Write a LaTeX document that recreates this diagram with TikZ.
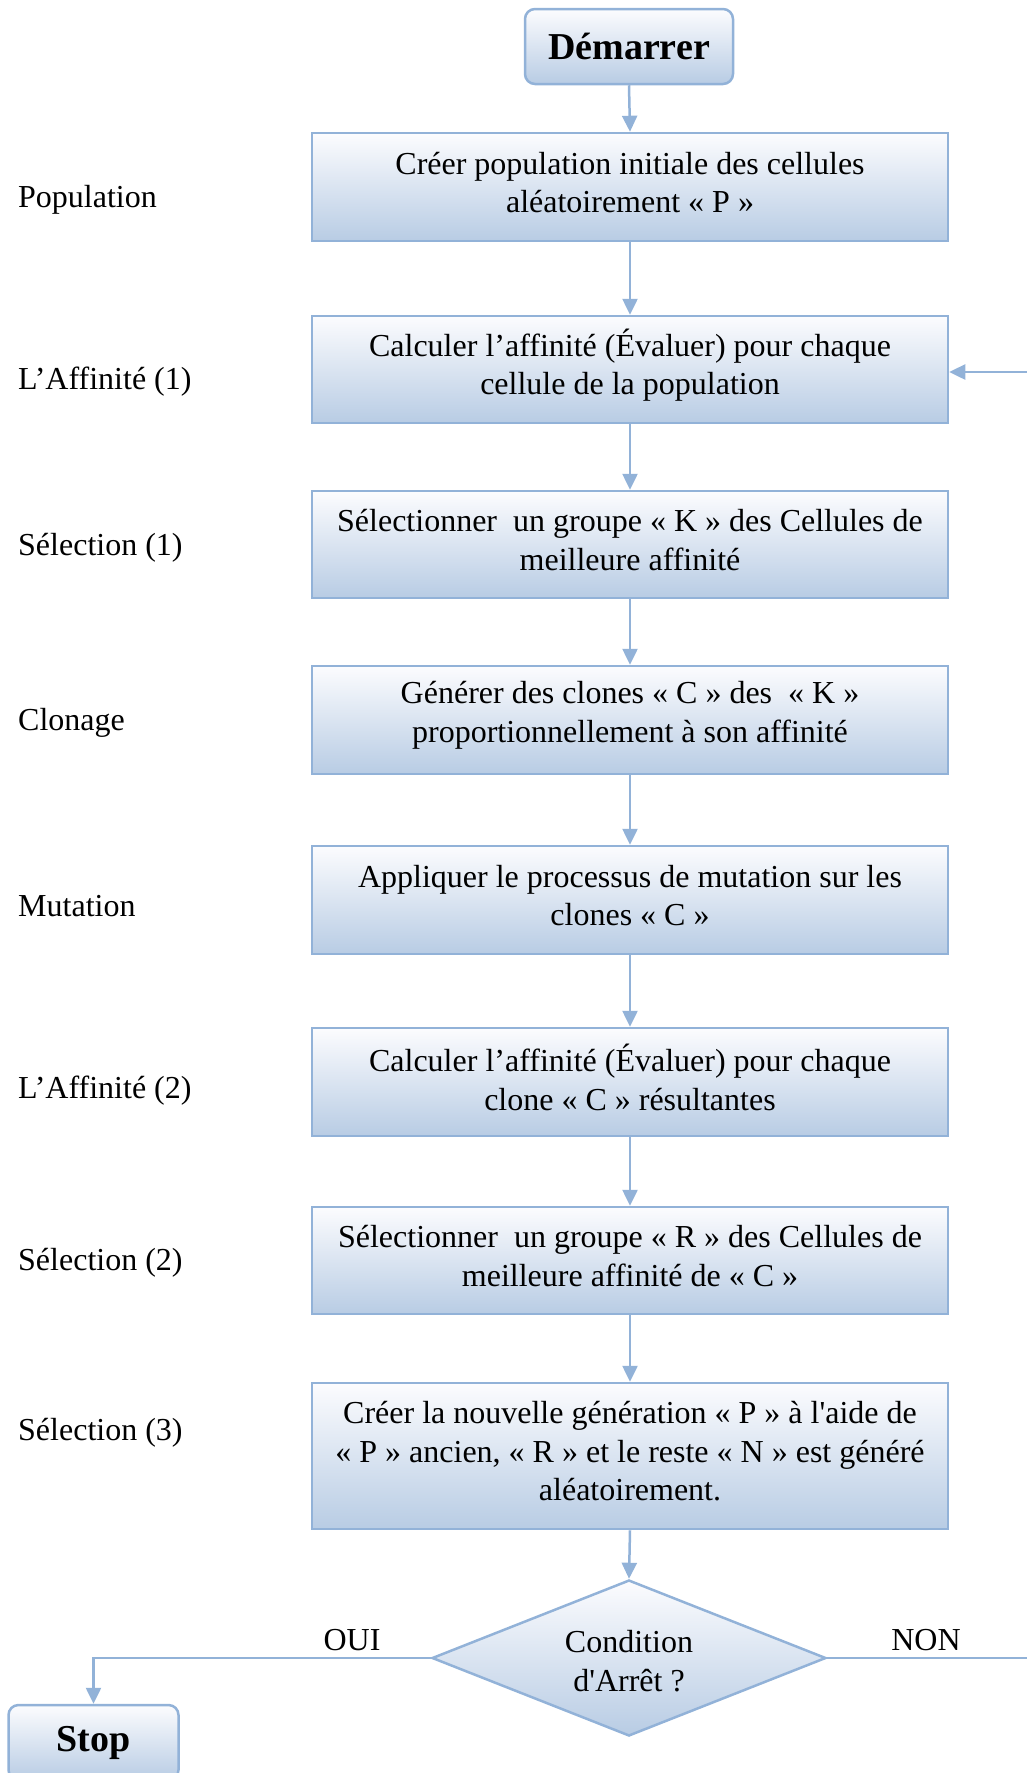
\documentclass[tikz,border=0pt]{standalone}
\usepackage{fontspec}
\setmainfont{Liberation Serif}
\usetikzlibrary{arrows.meta,shapes.geometric}

\definecolor{edgeblue}{RGB}{146,178,216}
\definecolor{fillblue}{RGB}{184,204,228}
\definecolor{filltop}{RGB}{252,252,254}

\tikzset{
  txt/.style={font=\fontsize{32}{38.5}\selectfont},
  boxtxt/.style={font=\fontsize{32}{38.5}\selectfont, align=center, inner sep=0pt},
  stepbox/.style={rectangle, draw=edgeblue, line width=2.5pt,
    top color=filltop, bottom color=fillblue,
    minimum width=636pt, inner sep=0pt},
  termbox/.style={rectangle, rounded corners=10pt, draw=edgeblue, line width=2.5pt,
    top color=filltop, bottom color=fillblue, inner sep=0pt,
    font=\fontsize{38}{42}\selectfont\bfseries},
  decision/.style={diamond, draw=edgeblue, line width=2.5pt,
    top color=filltop, bottom color=fillblue, inner sep=0pt, aspect=2.5,
    minimum width=394pt, minimum height=156pt},
  sidelabel/.style={anchor=west, inner sep=0pt, txt},
  flow/.style={draw=edgeblue, line width=2.5pt,
    -{Triangle[length=16pt,width=15pt]}},
  % box text sits slightly above the geometric centre
  inside/.style={label={[boxtxt, yshift=4.5pt]center:{#1}}},
}

\begin{document}
\begin{tikzpicture}[x=1pt,y=-1pt]
\useasboundingbox (0,0) rectangle (1027,1773);
\clip (0,0) rectangle (1027,1773);

% start and end terminals
\node[termbox, minimum width=208pt, minimum height=75pt] (start) at (629,46.5) {Démarrer};
\node[termbox, minimum width=170pt, minimum height=75pt] (stop) at (93.5,1742.5) {Stop};

% process steps
\node[stepbox, minimum height=108pt, inside={Créer population initiale des cellules\\aléatoirement « P »}] (b1) at (630,187) {};
\node[stepbox, minimum height=107pt, inside={Calculer l’affinité (Évaluer) pour chaque\\cellule de la population}] (b2) at (630,369.5) {};
\node[stepbox, minimum height=107pt, inside={Sélectionner\ \ un groupe « K » des Cellules de\\meilleure affinité}] (b3) at (630,544.5) {};
\node[stepbox, minimum height=108pt, inside={Générer des clones « C » des\ \ « K »\\proportionnellement à son affinité}] (b4) at (630,720) {};
\node[stepbox, minimum height=108pt, inside={Appliquer le processus de mutation sur les\\clones « C »}] (b5) at (630,900) {};
\node[stepbox, minimum height=108pt, inside={Calculer l’affinité (Évaluer) pour chaque\\clone « C » résultantes}] (b6) at (630,1082) {};
\node[stepbox, minimum height=107pt, inside={Sélectionner\ \ un groupe « R » des Cellules de\\meilleure affinité de « C »}] (b7) at (630,1260.5) {};
\node[stepbox, minimum height=146pt, inside={Créer la nouvelle génération « P » à l\textquotesingle aide de\\« P » ancien, « R » et le reste « N » est généré\\aléatoirement.}] (b8) at (630,1456) {};

% stopping test
\node[decision, label={[txt, align=center, inner sep=0pt, yshift=-3pt]center:{Condition\\d\textquotesingle Arrêt ?}}] (cond) at (629,1658) {};

% phase labels
\node[sidelabel] (l1) at (18,200) {Population};
\node[sidelabel] (l2) at (18,382) {L’Affinité (1)};
\node[sidelabel] (l3) at (18,548) {Sélection (1)};
\node[sidelabel] (l4) at (18,723) {Clonage};
\node[sidelabel] (l5) at (18,906) {Mutation};
\node[sidelabel] (l6) at (18,1091) {L’Affinité (2)};
\node[sidelabel] (l7) at (18,1263) {Sélection (2)};
\node[sidelabel] (l8) at (18,1433) {Sélection (3)};

% main flow
\draw[flow] (start.south) -- (b1.north);
\draw[flow] (b1.south) -- (b2.north);
\draw[flow] (b2.south) -- (b3.north);
\draw[flow] (b3.south) -- (b4.north);
\draw[flow] (b4.south) -- (b5.north);
\draw[flow] (b5.south) -- (b6.north);
\draw[flow] (b6.south) -- (b7.north);
\draw[flow] (b7.south) -- (b8.north);
\draw[flow] (b8.south) -- (cond.north);

% exit and loop back
\draw[flow] (cond.west) -| (stop.north);
\coordinate (loopdown) at (1045,1658);
\coordinate (loopup) at (1045,372);
\draw[flow] (cond.east) -- (loopdown) -- (loopup) -- (loopup -| b2.east);

\node[txt, inner sep=0pt] (oui) at (352,1640) {OUI};
\node[txt, inner sep=0pt] (non) at (926,1640) {NON};
\end{tikzpicture}
\end{document}
